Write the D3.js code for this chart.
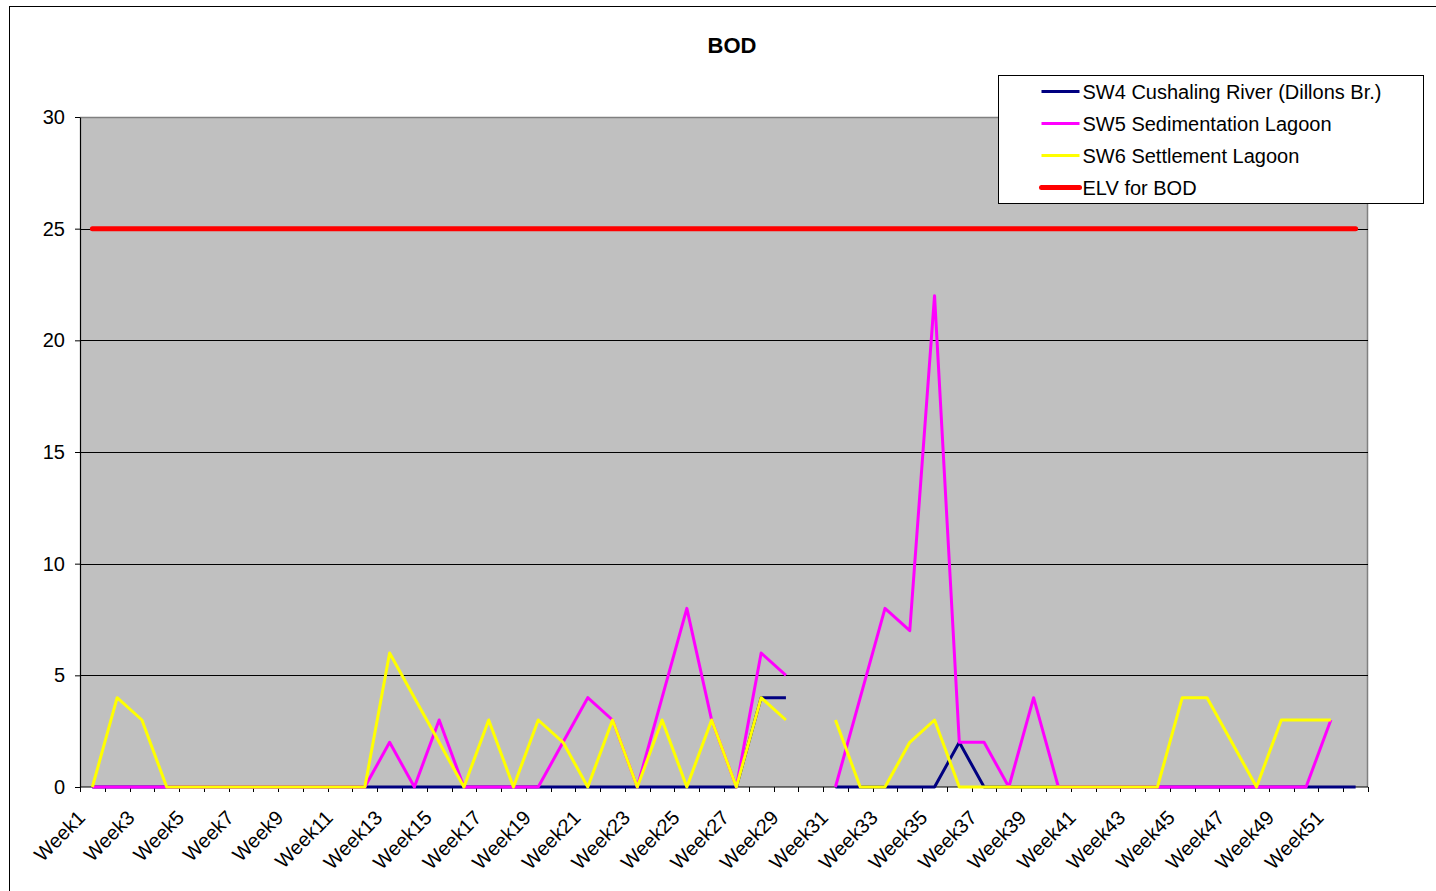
<!DOCTYPE html>
<html>
<head>
<meta charset="utf-8">
<script src="https://cdn.jsdelivr.net/npm/d3@7/dist/d3.min.js"></script>
<style>
  html, body { margin: 0; padding: 0; background: #fff; }
  svg { display: block; font-family: "Liberation Sans", Arial, sans-serif; }
</style>
</head>
<body>
<svg id="chart" width="1436" height="891"></svg>
<script>
// Weekly BOD results per sampling point (null = no sample taken)
const weeks = d3.range(1, 53).map(i => "Week" + i);

const sw4 = [0,0,0,0,0,0,0,0,0,0, 0,0,0,0,0,0,0,0,0,0, 0,0,0,0,0,0,0,4,4,null,
             0,0,0,0,0,2,0,0,0,0, 0,0,0,0,0,0,0,0,0,0, 0,0];
const sw5 = [0,0,0,0,0,0,0,0,0,0, 0,0,2,0,3,0,0,0,0,2, 4,3,0,4,8,3,0,6,5,null,
             0,4,8,7,22,2,2,0,4,0, 0,0,0,0,0,0,0,0,0,0, 3,null];
const sw6 = [0,4,3,0,0,0,0,0,0,0, 0,0,6,4,2,0,3,0,3,2, 0,3,0,3,0,3,0,4,3,null,
             3,0,0,2,3,0,0,0,0,0, 0,0,0,0,4,4,2,0,3,3, 3,null];
const elv = weeks.map(() => 25);

const yTicks = [0, 5, 10, 15, 20, 25, 30];

const series = [
  { name: "SW4 Cushaling River (Dillons Br.)", values: sw4, color: "#000080", width: 3 },
  { name: "SW5 Sedimentation Lagoon", values: sw5, color: "#FF00FF", width: 3 },
  { name: "SW6 Settlement Lagoon", values: sw6, color: "#FFFF00", width: 3 },
  { name: "ELV for BOD", values: elv, color: "#FF0000", width: 5 }
];

const svg = d3.select("#chart");
const plot = { left: 80, right: 1368, top: 117, bottom: 787 };
const FONT = "'Liberation Sans', Arial, sans-serif";

// chart frame
svg.append("rect")
  .attr("x", 9.5).attr("y", 6.5)
  .attr("width", 1440).attr("height", 900)
  .attr("fill", "#fff").attr("stroke", "#000").attr("stroke-width", 1);

const x = d3.scaleBand().domain(weeks).range([plot.left, plot.right]).padding(0);
const y = d3.scaleLinear().domain([0, 30]).range([plot.bottom, plot.top]);
const cx = w => x(w) + x.bandwidth() / 2;

// plot area
svg.append("rect")
  .attr("x", plot.left).attr("y", plot.top)
  .attr("width", plot.right - plot.left).attr("height", plot.bottom - plot.top)
  .attr("fill", "#C0C0C0");
svg.append("path")
  .attr("d", `M${plot.left},${plot.top + 0.5}H${plot.right - 0.5}V${plot.bottom}`)
  .attr("fill", "none").attr("stroke", "#808080").attr("stroke-width", 1.5);

// horizontal gridlines
svg.append("g")
  .selectAll("line")
  .data(yTicks.filter(t => t > 0 && t < 30))
  .join("line")
  .attr("x1", plot.left).attr("x2", plot.right)
  .attr("y1", d => Math.round(y(d)) + 0.5).attr("y2", d => Math.round(y(d)) + 0.5)
  .attr("stroke", "#000").attr("stroke-width", 1);

// y axis
const yAxis = svg.append("g")
  .attr("transform", `translate(${plot.left},0)`)
  .call(d3.axisLeft(y).tickValues(yTicks).tickSize(5).tickPadding(10).tickSizeOuter(0));
yAxis.select(".domain").attr("stroke", "#000").attr("stroke-width", 1.2);
yAxis.selectAll(".tick line").attr("stroke", "#000");
yAxis.selectAll("text").attr("font-size", 20).attr("fill", "#000")
  .attr("font-family", FONT);

// x axis: tick marks between categories, labels on every other week
const xg = svg.append("g").attr("transform", `translate(0,${plot.bottom})`);
xg.append("line")
  .attr("x1", plot.left).attr("x2", plot.right)
  .attr("stroke", "#000").attr("stroke-width", 1.2);
xg.selectAll("line.tk")
  .data(weeks.map(w => x(w)).concat([plot.right]))
  .join("line").attr("class", "tk")
  .attr("x1", d => Math.round(d) + 0.5).attr("x2", d => Math.round(d) + 0.5)
  .attr("y1", 0).attr("y2", 5)
  .attr("stroke", "#000");
xg.selectAll("text")
  .data(weeks.filter((w, i) => i % 2 === 0))
  .join("text")
  .attr("transform", d => `translate(${cx(d) - 6},${32}) rotate(-45)`)
  .attr("text-anchor", "end")
  .attr("font-size", 20)
  .attr("fill", "#000")
  .text(d => d);

// series lines
const line = d3.line()
  .defined(d => d.v !== null)
  .x(d => cx(d.w))
  .y(d => y(d.v));

svg.append("g")
  .selectAll("path")
  .data(series)
  .join("path")
  .attr("d", s => line(s.values.map((v, i) => ({ w: weeks[i], v }))))
  .attr("fill", "none")
  .attr("stroke", s => s.color)
  .attr("stroke-width", s => s.width)
  .attr("stroke-linejoin", "round")
  .attr("stroke-linecap", s => s.width > 4 ? "round" : "butt");

// title
svg.append("text")
  .attr("x", 732).attr("y", 53)
  .attr("text-anchor", "middle")
  .attr("font-size", 22).attr("font-weight", "bold")
  .text("BOD");

// legend
const lg = svg.append("g").attr("transform", "translate(998.5,75.5)");
lg.append("rect").attr("width", 425).attr("height", 128)
  .attr("fill", "#fff").attr("stroke", "#000").attr("stroke-width", 1);
const items = lg.selectAll("g.item").data(series).join("g").attr("class", "item")
  .attr("transform", (d, i) => `translate(0,${16 + i * 32})`);
items.append("line")
  .attr("x1", 43).attr("x2", 81)
  .attr("stroke", d => d.color)
  .attr("stroke-width", d => d.width)
  .attr("stroke-linecap", d => d.width > 4 ? "round" : "butt");
items.append("text")
  .attr("x", 84).attr("y", 7.5)
  .attr("font-size", 20)
  .attr("fill", "#000")
  .text(d => d.name);
</script>
</body>
</html>
